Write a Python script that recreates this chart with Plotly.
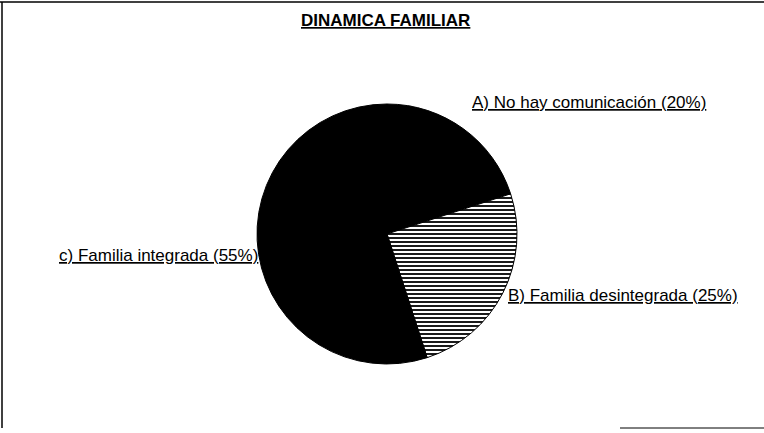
import plotly.graph_objects as go

labels = ['A) No hay comunicación', 'B) Familia desintegrada', 'c) Familia integrada']
values = [20, 25, 55]
title = 'DINAMICA FAMILIAR'

W, H = 764, 433
cx, cy, r = 387, 234, 130  # pie centre / radius in pixels (from top)

fig = go.Figure(go.Pie(labels=labels,
                       values=values,
                       sort=False,
                       direction='clockwise',
                       rotation=0,
                       textinfo='none',
                       hoverinfo='label+percent',
                       marker=dict(colors=['black', 'white', 'black'],
                                   line=dict(color='black', width=1),
                                   pattern=dict(shape=['', '-', ''],
                                                fgcolor='black',
                                                bgcolor='white',
                                                size=4,
                                                solidity=0.45)),
                       domain=dict(x=[(cx - r) / W, (cx + r) / W],
                                   y=[(H - cy - r) / H, (H - cy + r) / H])))

lab_font = dict(family='Liberation Sans, Arial, sans-serif', size=17,
                color='black', lineposition='under')
# label anchor (x, centre y, anchor side) in pixels
pos = [(470, 102, 'left'), (506, 295, 'left'), (260, 255, 'right')]
for (x, y, anc), lab, v in zip(pos, labels, values):
    fig.add_annotation(x=x / W, y=1 - y / H, xref='paper', yref='paper',
                       xanchor=anc, yanchor='middle', showarrow=False,
                       text=f'{lab} ({v}%)', font=lab_font)

fig.add_annotation(x=386 / W, y=1 - 20 / H, xref='paper', yref='paper',
                   xanchor='center', yanchor='middle', showarrow=False,
                   text=f'<b>{title}</b>',
                   font=dict(family='Liberation Sans, Arial, sans-serif',
                             size=17, color='black', lineposition='under'))

# scanned frame edges
line = dict(color='black', width=1.5)
fig.add_shape(type='line', xref='paper', yref='paper', x0=0, x1=1, y0=1 - 2 / H, y1=1 - 2 / H, line=line)
fig.add_shape(type='line', xref='paper', yref='paper', x0=2 / W, x1=2 / W, y0=1 - 2 / H, y1=5 / H, line=line)
fig.add_shape(type='line', xref='paper', yref='paper', x0=620 / W, x1=1, y0=5 / H, y1=5 / H,
              line=dict(color='black', width=1))

fig.update_layout(width=W, height=H,
                  margin=dict(l=0, r=0, t=0, b=0),
                  paper_bgcolor='white',
                  plot_bgcolor='white',
                  showlegend=False)

fig.write_html('out.html',
               config={'displayModeBar': False},
               post_script="document.body.style.margin='0px';document.body.style.overflow='hidden';")
